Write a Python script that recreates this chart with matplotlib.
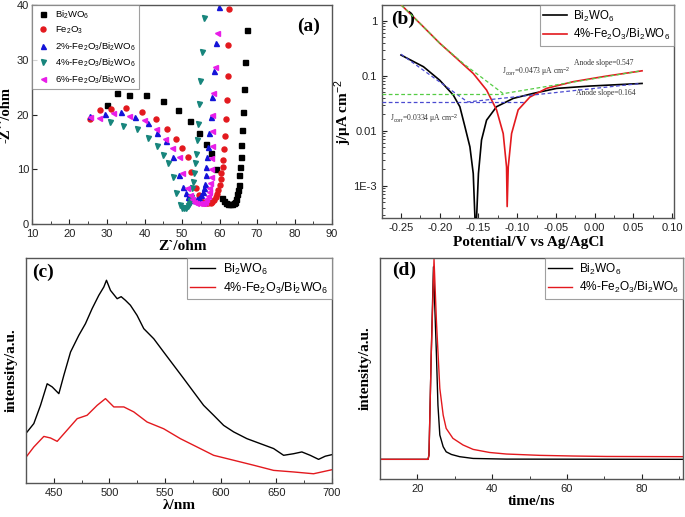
import matplotlib
matplotlib.use("Agg")
import matplotlib.pyplot as plt
import matplotlib.ticker as mticker
import numpy as np

plt.rcParams['font.family'] = ['Liberation Sans', 'DejaVu Sans']
plt.rcParams['mathtext.fontset'] = 'custom'
plt.rcParams['mathtext.rm'] = 'Liberation Sans'
plt.rcParams['mathtext.it'] = 'Liberation Sans:italic'
plt.rcParams['mathtext.bf'] = 'Liberation Sans:bold'

SERIF = ['Liberation Serif', 'DejaVu Serif']

# ---------------- (a) EIS Nyquist data ----------------
bwo_x = [30.0, 32.7, 35.8, 40.5, 44.8, 48.9, 52.0, 54.4, 56.5, 57.8, 59.0, 60.7, 61.3, 61.8, 62.3, 62.8,
         63.3, 63.8, 64.2, 64.5, 64.7, 64.9, 65.1, 65.3, 65.4, 65.6, 65.7, 66.0, 66.3, 66.5, 66.9, 67.3]
bwo_y = [21.8, 23.9, 23.6, 23.6, 22.4, 20.9, 18.8, 16.7, 14.7, 12.9, 10.0, 4.8, 4.2, 3.9, 3.7, 3.6,
         3.6, 3.8, 4.1, 4.6, 5.4, 6.2, 7.2, 8.9, 10.5, 12.3, 14.4, 17.2, 20.5, 24.6, 29.6, 35.5]

fe_x = [25.6, 28.2, 31.2, 35.2, 39.2, 43.0, 46.0, 48.3, 50.1, 51.6, 52.5, 53.8, 54.4, 54.8, 55.3, 55.8,
        56.4, 57.0, 57.6, 58.1, 58.6, 59.0, 59.4, 59.7, 60.0, 60.3, 60.5, 60.8, 60.9, 61.1, 61.4, 61.6,
        62.0, 62.3, 62.3, 62.5]
fe_y = [19.2, 20.8, 21.0, 21.2, 20.4, 19.1, 17.4, 15.6, 13.9, 12.3, 9.5, 6.5, 5.3, 4.5, 4.0, 3.8,
        3.8, 3.8, 3.9, 4.1, 4.4, 4.9, 5.5, 6.3, 7.1, 8.3, 9.4, 10.5, 11.7, 13.7, 16.1, 19.2,
        22.6, 27.1, 32.7, 39.3]

p2_x = [25.4, 29.6, 33.8, 37.6, 40.8, 43.4, 45.6, 47.6, 49.2, 50.3, 51.0, 51.6, 52.2, 52.8, 53.4, 54.0,
        54.6, 55.1, 55.5, 55.8, 56.0, 56.3, 56.5, 56.7, 56.9, 57.2, 57.6, 58.1, 58.6, 59.0, 59.8]
p2_y = [19.7, 20.1, 20.4, 19.5, 18.4, 16.7, 15.2, 12.3, 8.9, 6.8, 5.6, 5.0, 4.6, 4.4, 4.4, 4.5,
        4.8, 5.3, 5.9, 6.6, 7.4, 8.9, 10.5, 12.3, 14.1, 16.6, 19.6, 23.2, 27.9, 33.0, 39.6]

p4_x = [30.9, 34.4, 38.0, 40.9, 43.2, 44.9, 46.3, 47.6, 48.5, 49.4, 50.0, 50.5, 51.0, 51.5, 51.9, 52.2,
        52.4, 52.7, 52.9, 53.2, 53.4, 53.6, 53.9, 54.3, 54.5, 54.9, 55.2, 55.9]
p4_y = [18.7, 17.9, 17.3, 15.8, 14.2, 12.6, 11.1, 8.6, 5.6, 3.5, 3.0, 2.9, 3.0, 3.2, 3.6, 4.2,
        5.0, 6.5, 7.7, 9.3, 11.1, 12.8, 15.3, 18.2, 21.9, 26.1, 31.4, 37.6]

p6_x = [25.6, 27.9, 31.6, 35.9, 39.8, 43.0, 45.4, 47.3, 49.1, 50.1, 51.3, 52.0, 52.6, 53.2, 53.8, 54.4,
        55.0, 55.6, 56.1, 56.5, 56.9, 57.1, 57.3, 57.5, 57.6, 57.7, 57.8, 57.9, 57.9, 58.0, 58.3, 58.7, 59.4]
p6_y = [19.5, 19.3, 20.3, 19.7, 19.0, 17.3, 15.6, 13.9, 12.3, 9.4, 6.5, 5.3, 4.6, 4.1, 3.9, 3.8,
        3.8, 3.9, 4.1, 4.5, 5.1, 5.8, 6.6, 7.5, 8.6, 10.0, 12.0, 14.2, 16.9, 19.9, 23.9, 28.7, 34.8]

# ---------------- (b) Tafel data ----------------
tb_x = [-0.250, -0.221, -0.200, -0.1825, -0.174, -0.1674, -0.161, -0.1567, -0.1545, -0.1524, -0.150,
        -0.146, -0.1395, -0.1266, -0.105, -0.0793, -0.0492, -0.0062, 0.0613]
tb_y = [0.238, 0.146, 0.083, 0.0446, 0.0274, 0.0118, 0.0051, 0.00167, 0.00026, 0.00026, 0.00167,
        0.0068, 0.0156, 0.0274, 0.0388, 0.0478, 0.0589, 0.065, 0.0725]
tr_x = [-0.255, -0.2212, -0.1997, -0.1782, -0.1567, -0.1395, -0.1266, -0.118, -0.1137, -0.1129,
        -0.1115, -0.1072, -0.0987, -0.0836, -0.0621, -0.0277, 0.0153, 0.0613]
tr_y = [2.3, 0.778, 0.387, 0.207, 0.110, 0.055, 0.024, 0.0089, 0.0022, 0.00042,
        0.0022, 0.0089, 0.024, 0.041, 0.059, 0.078, 0.0986, 0.123]
# Tafel fit lines
fitb_x = [-0.250, -0.164, 0.060]
fitb_y = [0.247, 0.0334, 0.0725]
fitr_x = [-0.255, -0.2212, -0.1997, -0.168, -0.118, 0.060]
fitr_y = [2.3, 0.778, 0.387, 0.16, 0.0473, 0.123]
jb_corr = 0.0334
jr_corr = 0.0473

# ---------------- (c) PL data ----------------
pl_x_b = [425.2, 432.0, 438.0, 444.0, 448.5, 454.5, 459.0, 465.0, 472.4, 478.4, 484.4, 490.4, 494.9,
          497.3, 500.9, 506.9, 510.5, 514.3, 518.8, 524.8, 530.8, 539.8, 548.7, 557.7, 566.7, 575.7,
          584.6, 593.6, 602.6, 611.6, 623.5, 635.5, 647.5, 656.5, 665.4, 672.9, 680.4, 687.9, 693.9, 700.0]
pl_y_b = [22.2, 26.4, 34.5, 44.1, 42.7, 39.7, 47.9, 58.2, 65.6, 70.8, 77.5, 83.4, 87.1,
          90.1, 85.6, 81.9, 82.8, 81.2, 79.0, 74.5, 68.6, 64.1, 58.2, 52.3, 46.4, 40.4,
          34.5, 30.1, 25.6, 22.7, 19.7, 17.5, 15.3, 12.3, 13.0, 13.8, 12.3, 10.5, 11.9, 12.6]
pl_x_r = [425.2, 432.0, 441.0, 447.0, 453.0, 460.5, 471.0, 479.9, 488.9, 496.4, 503.9, 512.9, 521.8,
          533.8, 548.7, 563.7, 578.7, 593.6, 611.6, 629.5, 647.5, 665.4, 683.4, 700.0]
pl_y_r = [11.6, 16.0, 20.7, 20.0, 18.5, 22.7, 28.6, 30.1, 34.5, 37.5, 33.8, 33.8, 31.6,
          27.1, 24.1, 19.7, 16.0, 12.3, 10.1, 7.9, 5.6, 4.9, 4.1, 5.9]

# ---------------- (d) TRPL data ----------------
tr_t_b = [10.0, 22.85, 23.1, 23.7, 24.3, 25.1, 25.5, 26.0, 26.9, 27.7, 29.1, 31.3, 34.9, 43.8, 91.0]
tr_i_b = [8.9, 8.9, 10.8, 55.9, 96.0, 56.0, 33.4, 19.9, 14.6, 12.3, 11.1, 10.1, 9.3, 9.0, 8.9]
tr_t_r = [10.0, 22.85, 23.1, 23.7, 24.45, 25.1, 26.0, 26.9, 27.7, 29.5, 32.2, 34.9, 39.3, 43.8, 52.7,
          61.6, 70.5, 91.0]
tr_i_r = [8.9, 8.9, 10.8, 55.9, 99.4, 71.1, 41.0, 28.9, 22.9, 18.4, 15.4, 13.4, 12.0, 11.3, 10.7,
          10.4, 10.2, 10.1]

labels_a = ['Bi$_2$WO$_6$', 'Fe$_2$O$_3$', '2%-Fe$_2$O$_3$/Bi$_2$WO$_6$',
            '4%-Fe$_2$O$_3$/Bi$_2$WO$_6$', '6%-Fe$_2$O$_3$/Bi$_2$WO$_6$']
labels_2 = ['Bi$_2$WO$_6$', '4%-Fe$_2$O$_3$/Bi$_2$WO$_6$']

RED = '#e3191e'
SPINE = '#555555'

fig = plt.figure(figsize=(6.85, 5.17), dpi=100)

def style(ax):
    for s in ax.spines.values():
        s.set_color(SPINE)
        s.set_linewidth(1.0)
    ax.tick_params(direction='in', which='both', labelsize=8, top=False, right=False, colors='#222222')
    ax.tick_params(which='major', length=3.5)
    ax.tick_params(which='minor', length=2)

def legend2(ax, fs):
    leg = ax.legend(loc='upper right', fontsize=fs, frameon=True, fancybox=False, edgecolor='#888888',
                    handlelength=2.0, handletextpad=0.6, borderpad=0.3, labelspacing=0.3,
                    borderaxespad=0.0)
    leg.get_frame().set_linewidth(0.8)
    return leg

# (a)
axa = fig.add_axes([0.0467, 0.5667, 0.438, 0.4236])
style(axa)
axa.tick_params(axis='y', pad=2)
series = [(bwo_x, bwo_y, 's', 'black'), (fe_x, fe_y, 'o', RED), (p2_x, p2_y, '^', '#1414d8'),
          (p4_x, p4_y, 'v', '#17857c'), (p6_x, p6_y, '<', '#e81ee8')]
for (x, y, m, c), lab in zip(series, labels_a):
    axa.plot(x, y, linestyle='none', marker=m, color=c, markersize=3.6, label=lab)
axa.set_xlim(10, 90)
axa.set_ylim(0, 40)
axa.xaxis.set_major_locator(mticker.MultipleLocator(10))
axa.xaxis.set_minor_locator(mticker.MultipleLocator(5))
axa.yaxis.set_major_locator(mticker.MultipleLocator(10))
axa.set_xlabel('Z`/ohm', family=SERIF, fontweight='bold', fontsize=11, labelpad=1)
axa.set_ylabel('-Z``/ohm', family=SERIF, fontweight='bold', fontsize=10.5)
axa.yaxis.set_label_coords(-0.066, 0.5)
leg = axa.legend(loc='upper left', fontsize=6.8, frameon=True, fancybox=False, edgecolor='#888888',
                 handletextpad=0.5, handlelength=1.6, borderpad=0.35, labelspacing=0.42,
                 borderaxespad=0.0)
leg.get_frame().set_linewidth(0.8)
axa.text(0.96, 0.94, '(a)', transform=axa.transAxes, ha='right', va='top',
         family=SERIF, fontweight='bold', fontsize=14)

# (b)
axb = fig.add_axes([0.5577, 0.5783, 0.4263, 0.412])
style(axb)
axb.set_yscale('log')
axb.plot(tb_x, tb_y, color='black', lw=1.2, label=labels_2[0], zorder=3)
axb.plot(tr_x, tr_y, color=RED, lw=1.2, label=labels_2[1], zorder=3)
axb.plot(fitb_x, fitb_y, color='#4a4ad0', lw=0.9, ls=(0, (3, 2)), zorder=4)
axb.plot([-0.275, -0.09], [jb_corr, jb_corr], color='#4a4ad0', lw=0.9, ls=(0, (3, 2)), zorder=4)
axb.plot(fitr_x, fitr_y, color='#55cc44', lw=0.9, ls=(0, (3, 2)), zorder=4)
axb.plot([-0.275, -0.118], [jr_corr, jr_corr], color='#55cc44', lw=0.9, ls=(0, (3, 2)), zorder=4)
axb.set_xlim(-0.2745, 0.1026)
axb.set_ylim(2.6e-4, 1.93)
axb.xaxis.set_major_locator(mticker.MultipleLocator(0.05))
axb.xaxis.set_minor_locator(mticker.MultipleLocator(0.025))
axb.xaxis.set_major_formatter(mticker.FuncFormatter(lambda v, p: f'{v:.2f}'))
axb.yaxis.set_major_locator(mticker.FixedLocator([1e-3, 1e-2, 1e-1, 1]))
axb.yaxis.set_major_formatter(mticker.FixedFormatter(['1E-3', '0.01', '0.1', '1']))
axb.yaxis.set_minor_locator(mticker.LogLocator(base=10, subs=np.arange(2, 10)))
axb.yaxis.set_minor_formatter(mticker.NullFormatter())
axb.set_xlabel('Potential/V vs Ag/AgCl', family=SERIF, fontweight='bold', fontsize=11, labelpad=2)
axb.set_ylabel('j/μA cm$^{-2}$', family=SERIF, fontweight='bold', fontsize=11)
axb.yaxis.set_label_coords(-0.095, 0.5)
legend2(axb, 8.3)
axb.text(0.03, 0.975, '(b)', transform=axb.transAxes, ha='left', va='top',
         family=SERIF, fontweight='bold', fontsize=14)
axb.text(-0.120, 0.105, 'J$_{\\rm corr}$=0.0473 μA cm$^{-2}$', family=SERIF, fontsize=5.5, color='#333333')
axb.text(-0.264, 0.0145, 'J$_{\\rm corr}$=0.0334 μA cm$^{-2}$', family=SERIF, fontsize=5.5, color='#333333')
axb.text(-0.026, 0.16, 'Anode slope=0.547', family=SERIF, fontsize=5.5, color='#333333')
axb.text(-0.024, 0.044, 'Anode slope=0.164', family=SERIF, fontsize=5.5, color='#333333')

# (c)
axc = fig.add_axes([0.038, 0.0658, 0.4467, 0.4352])
style(axc)
axc.plot(pl_x_b, pl_y_b, color='black', lw=1.0, label=labels_2[0])
axc.plot(pl_x_r, pl_y_r, color=RED, lw=1.0, label=labels_2[1])
axc.set_xlim(425, 700)
axc.set_ylim(0, 100)
axc.xaxis.set_major_locator(mticker.MultipleLocator(50))
axc.xaxis.set_minor_locator(mticker.MultipleLocator(25))
axc.set_yticks([])
axc.set_xlabel('λ/nm', family=SERIF, fontweight='bold', fontsize=11, labelpad=1)
axc.set_ylabel('intensity/a.u.', family=SERIF, fontweight='bold', fontsize=11, labelpad=6)
legend2(axc, 9)
axc.text(0.02, 0.975, '(c)', transform=axc.transAxes, ha='left', va='top',
         family=SERIF, fontweight='bold', fontsize=14)

# (d)
axd = fig.add_axes([0.5547, 0.0735, 0.4423, 0.4275])
style(axd)
axd.plot(tr_t_b, tr_i_b, color='black', lw=1.0, label=labels_2[0])
axd.plot(tr_t_r, tr_i_r, color=RED, lw=1.0, label=labels_2[1])
axd.set_xlim(10, 91)
axd.set_ylim(0, 100)
axd.xaxis.set_major_locator(mticker.MultipleLocator(20))
axd.xaxis.set_minor_locator(mticker.MultipleLocator(10))
axd.set_yticks([])
axd.set_xlabel('time/ns', family=SERIF, fontweight='bold', fontsize=11, labelpad=1)
axd.set_ylabel('intensity/a.u.', family=SERIF, fontweight='bold', fontsize=11, labelpad=6)
legend2(axd, 8.6)
axd.text(0.04, 0.985, '(d)', transform=axd.transAxes, ha='left', va='top',
         family=SERIF, fontweight='bold', fontsize=14)

fig.savefig('out.png', dpi=100)
